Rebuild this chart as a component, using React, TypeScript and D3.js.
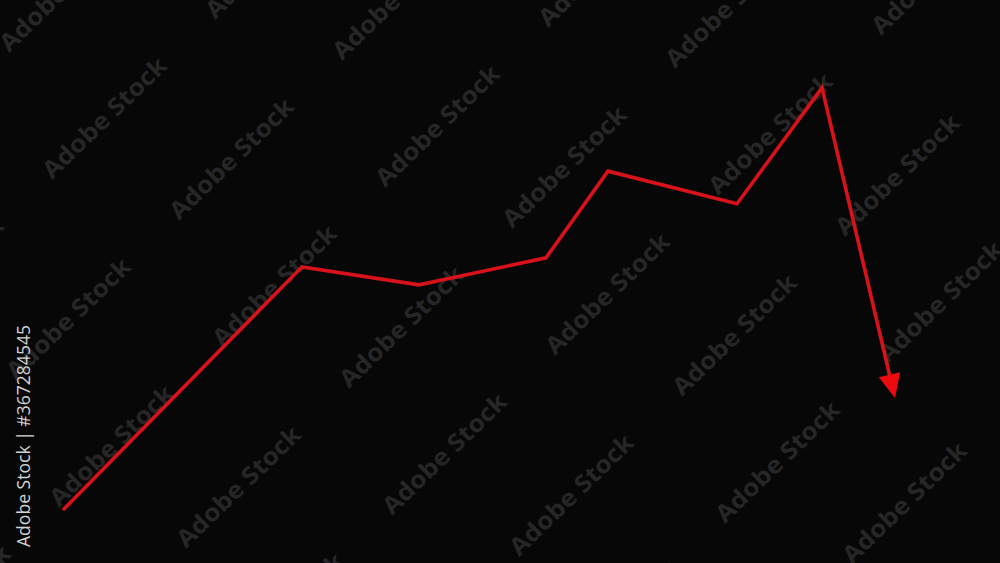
import React from 'react';
import * as d3 from 'd3';

// Line points (x in % of width, y as value 0..100)
const stepX = [6.4, 30.2, 41.9, 54.6, 60.8, 73.7, 82.2, 89.5];
const stepY = [9.6, 52.6, 49.4, 54.2, 69.6, 63.8, 84.4, 29.3];

const W = 1000;
const H = 563;

const stockId = 'Adobe Stock | #367284545';
const watermark = 'Adobe Stock';

export default function App() {
  const x = d3.scaleLinear().domain([0, 100]).range([0, W]);
  const y = d3.scaleLinear().domain([0, 100]).range([H, 0]);

  const pts: [number, number][] = stepX.map((v, i) => [x(v), y(stepY[i])]);

  // arrow head on the last segment
  const tip = pts[pts.length - 1];
  const prev = pts[pts.length - 2];
  const dx = tip[0] - prev[0];
  const dy = tip[1] - prev[1];
  const len = Math.hypot(dx, dy);
  const ux = dx / len;
  const uy = dy / len;
  const headLen = 24;
  const headHalf = 11;
  const base: [number, number] = [tip[0] - ux * headLen, tip[1] - uy * headLen];
  const lineEnd: [number, number] = [tip[0] - ux * headLen * 0.8, tip[1] - uy * headLen * 0.8];
  const head = [
    tip,
    [base[0] - uy * headHalf, base[1] + ux * headHalf],
    [base[0] + uy * headHalf, base[1] - ux * headHalf],
  ];

  const linePath = d3.line()([...pts.slice(0, -1), lineEnd]) || '';

  // watermark lattice
  const marks: { x: number; y: number }[] = [];
  for (let j = -1; j <= 4; j++) {
    for (let i = -2; i <= 4; i++) {
      const bx = 215 + i * 333 - j * 163;
      const by = 20 + i * 8 + j * 160;
      [[bx, by], [bx + 127, by + 41]].forEach(([px, py]) => {
        if (px > -200 && px < W + 50 && py > -50 && py < H + 200) marks.push({ x: px, y: py });
      });
    }
  }

  return (
    <div style={{ position: 'fixed', left: 0, top: 0, width: W, height: H }}>
      <svg width={W} height={H} style={{ display: 'block' }}>
        <rect width={W} height={H} fill="#070707" />
        <g fontFamily="'Open Sans', sans-serif" fontWeight="bold" fontSize={24} fill="#262626">
          {marks.map((m, i) => (
            <text
              key={i}
              x={m.x}
              y={m.y}
              transform={`rotate(-44 ${m.x} ${m.y})`}
              textLength={162}
              lengthAdjust="spacingAndGlyphs"
            >
              {watermark}
            </text>
          ))}
        </g>
        <path
          d={linePath}
          fill="none"
          stroke="#d8121a"
          strokeWidth={3.6}
          strokeLinejoin="miter"
          strokeLinecap="round"
        />
        <polygon points={head.map(p => p.join(',')).join(' ')} fill="#ec0a0f" />
        <text
          x={30}
          y={547}
          transform="rotate(-90 30 547)"
          fontFamily="'Open Sans', sans-serif"
          fontSize={19}
          fill="#d2d2d2"
          textLength={222}
          lengthAdjust="spacingAndGlyphs"
        >
          {stockId}
        </text>
      </svg>
    </div>
  );
}
